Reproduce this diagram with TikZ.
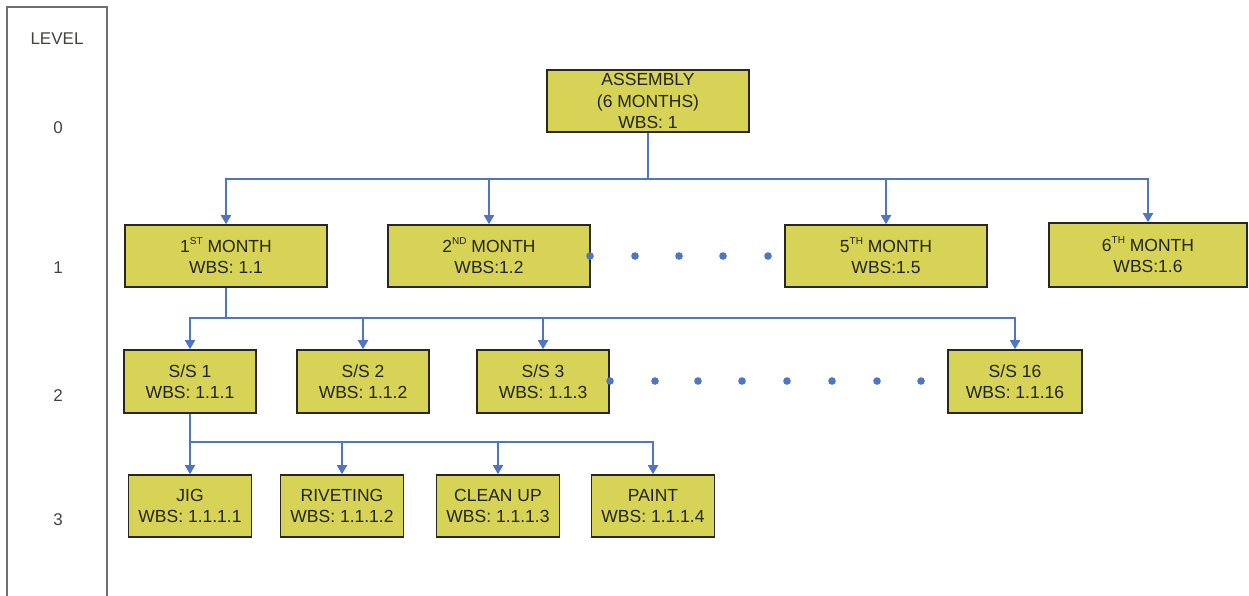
\documentclass[tikz,border=0pt]{standalone}
\usepackage{fontspec}
\setmainfont{Liberation Sans}
\usetikzlibrary{arrows.meta}
\definecolor{boxfill}{RGB}{214,211,86}
\definecolor{boxline}{RGB}{40,40,30}
\definecolor{conn}{RGB}{79,118,196}
\definecolor{txt}{RGB}{35,35,25}
\definecolor{lvl}{RGB}{110,110,110}
\newcommand{\sps}[1]{\raisebox{0.42em}{\fontsize{10}{10}\selectfont #1}}
\begin{document}
\begin{tikzpicture}[x=1pt,y=-1pt,
  wbs/.style={draw=boxline,fill=boxfill,line width=1.6pt,align=center,inner sep=0pt,
    text=txt,font=\fontsize{17.5}{21.5}\selectfont},
  lvw/.style={minimum width=202pt,minimum height=62pt},
  ssw/.style={minimum width=132pt,minimum height=63pt},
  tkw/.style={minimum width=123pt,minimum height=62pt},
  lvtext/.style={text=txt!85,font=\fontsize{17}{18}\selectfont},
  link/.style={draw=conn,line width=1.8pt},
  arr/.style={link,-{Triangle[width=10pt,length=9pt]}},
  dot/.style={fill=conn}]
\useasboundingbox (0,0) rectangle (1249,595);
\fill[white] (0,0) rectangle (1249,595);
% level column
\draw[lvl,line width=1.5pt] (7,620) -- (7,7) -- (107,7) -- (107,620);
\node[lvtext] (lv) at (57,39) {LEVEL};
\node[lvtext] (l0) at (58,128) {0};
\node[lvtext] (l1) at (58,268) {1};
\node[lvtext] (l2) at (58,396) {2};
\node[lvtext] (l3) at (58,520) {3};
% level 0
\node[wbs,lvw] (asm) at (648,101) {ASSEMBLY\\(6 MONTHS)\\WBS: 1};
% level 1
\node[wbs,lvw] (m1) at (226,256) {1\sps{ST} MONTH\\WBS: 1.1};
\node[wbs,lvw] (m2) at (489,256) {2\sps{ND} MONTH\\WBS:1.2};
\node[wbs,lvw] (m5) at (886,256) {5\sps{TH} MONTH\\WBS:1.5};
\node[wbs,lvw,minimum width=198pt,minimum height=64pt] (m6) at (1148,255) {6\sps{TH} MONTH\\WBS:1.6};
% level 2
\node[wbs,ssw] (s1) at (190,381.5) {S/S 1\\WBS: 1.1.1};
\node[wbs,ssw] (s2) at (363,381.5) {S/S 2\\WBS: 1.1.2};
\node[wbs,ssw] (s3) at (543,381.5) {S/S 3\\WBS: 1.1.3};
\node[wbs,ssw,minimum width=134pt] (s16) at (1015,381.5) {S/S 16\\WBS: 1.1.16};
% level 3
\node[wbs,tkw] (t1) at (190,506) {JIG\\WBS: 1.1.1.1};
\node[wbs,tkw] (t2) at (342,506) {RIVETING\\WBS: 1.1.1.2};
\node[wbs,tkw] (t3) at (498,506) {CLEAN UP\\WBS: 1.1.1.3};
\node[wbs,tkw] (t4) at (653,506) {PAINT\\WBS: 1.1.1.4};
% connectors level 0 -> 1
\coordinate (b0) at (648,179);
\draw[link] (asm.south) -- (b0);
\foreach \c in {m1,m2,m5,m6} \draw[arr] (b0) -| (\c.north);
% connectors level 1 -> 2
\coordinate (b1) at (226,318);
\draw[link] (m1.south) -- (b1);
\foreach \c in {s1,s2,s3,s16} \draw[arr] (b1) -| (\c.north);
% connectors level 2 -> 3
\coordinate (b2) at (190,442);
\draw[link] (s1.south) -- (b2);
\foreach \c in {t1,t2,t3,t4} \draw[arr] (b2) -| (\c.north);
% dots
\foreach \x in {590,635,679,723,768} \fill[dot] (\x,256) circle (3.8pt);
\foreach \x in {610,655,698,742,787,832,877,921} \fill[dot] (\x,381) circle (3.8pt);
\end{tikzpicture}
\end{document}
